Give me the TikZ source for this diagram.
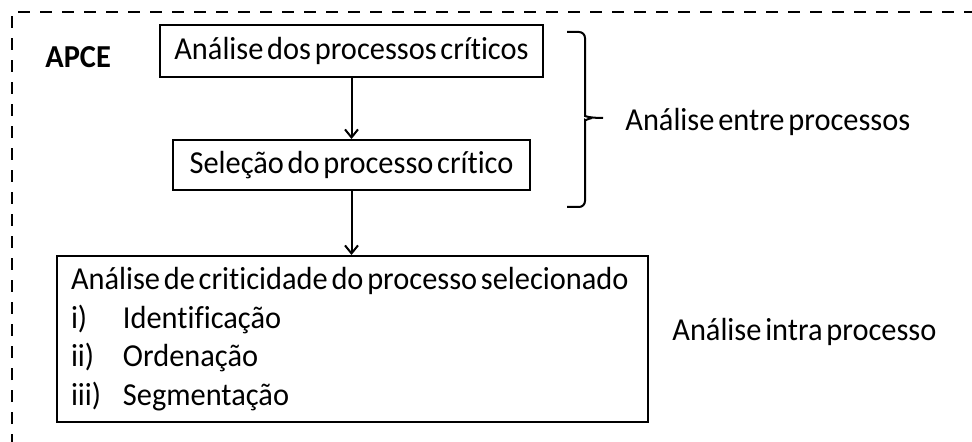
\documentclass[tikz,border=0pt]{standalone}
\usepackage{fontspec}
\setmainfont{Carlito}[FakeStretch=0.95, WordSpace=0.55, Ligatures=NoCommon]
\usetikzlibrary{arrows.meta}

\begin{document}
\begin{tikzpicture}[x=0.5pt, y=-0.5pt,
    every node/.style={font=\fontsize{16}{19.25}\selectfont},
    box/.style={draw, line width=1pt, inner sep=0pt},
    arr/.style={line width=1pt, -{Straight Barb[length=4pt, width=6.5pt, line width=1pt]}}]

    \useasboundingbox (0, 0) rectangle (972, 442);
    \begin{scope}
      \clip (0, 0) rectangle (972, 442);
      \draw[line width=1.4pt, dash pattern=on 6pt off 5pt] (12, 446) -- (12, 12) -- (990, 12);
    \end{scope}

    \node[anchor=west, inner sep=0pt, font=\fontsize{16}{19.25}\selectfont\bfseries] (apce) at (45, 57) {APCE};

    \node[box, minimum width=191.5pt, minimum height=26pt] (A1) at (351.5, 51) {Análise dos processos críticos};
    \node[box, minimum width=178.5pt, minimum height=25pt] (A2) at (351.5, 165) {Seleção do processo crítico};
    \node[box, anchor=north west, align=left, text width=281.5pt, inner xsep=7pt,
          minimum height=83pt] (A3) at (56, 255)
      {\spaceskip=\fontdimen2\font
       \mbox{Análise de criticidade do processo selecionado}\\
       \makebox[26pt][l]{i)}Identificação\\
       \makebox[26pt][l]{ii)}Ordenação\\
       \makebox[26pt][l]{iii)}Segmentação};

    \draw[arr] (A1) -- (A2);
    \draw[arr] (A2) -- (A2 |- A3.north);

    % chave
    \coordinate (B1) at (567, 32);
    \coordinate (B2) at (567, 207);
    \coordinate (T) at (603, 118);
    \draw[line width=1pt, rounded corners=3pt] (B1) -- (585, 32) -- (585, 110) .. controls (585, 116) and (589, 118) .. (T);
    \draw[line width=1pt, rounded corners=3pt] (B2) -- (585, 207) -- (585, 126) .. controls (585, 121) and (587, 119) .. (592, 118);

    \node[anchor=west, inner sep=0pt] (entre) at (625, 122) {Análise entre processos};
    \node[anchor=west, inner sep=0pt] (intra) at (672, 332) {Análise intra processo};
  \end{tikzpicture}
\end{document}
